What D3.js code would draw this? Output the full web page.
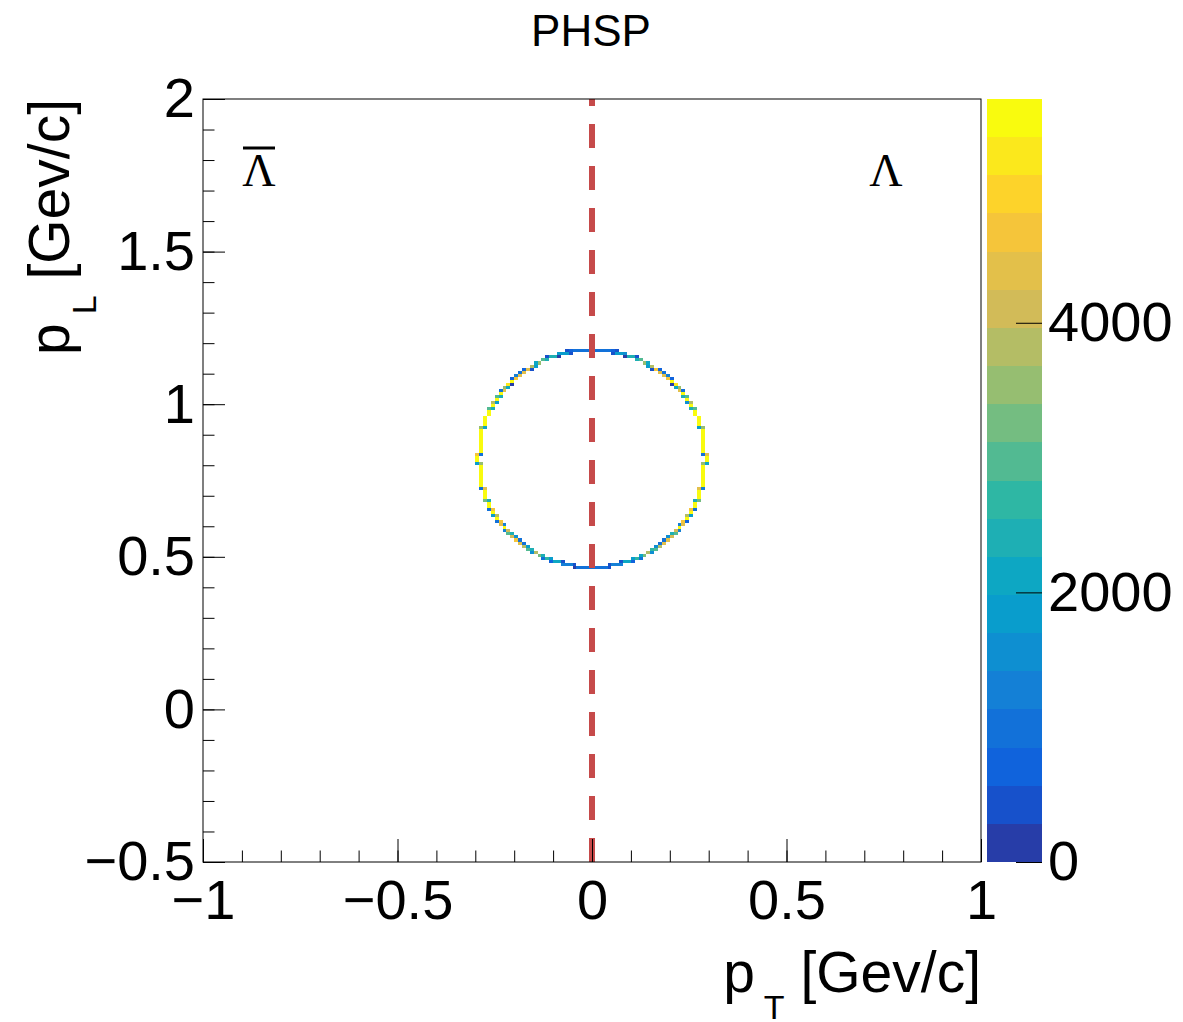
<!DOCTYPE html>
<html>
<head>
<meta charset="utf-8">
<script src="https://cdn.jsdelivr.net/npm/d3@7"></script>
<style>
  body { margin: 0; background: #fff; }
</style>
</head>
<body>
<div id="chart"></div>
<script>
// axis ranges and ticks
const pTRange = [-1, 1];
const pLRange = [-0.5, 2];
const pTTicks = [-1, -0.5, 0, 0.5, 1];
const pLTicks = [-0.5, 0, 0.5, 1, 1.5, 2];
const zTicks = [0, 2000, 4000];
const zMax = 5660;
const nContours = 20;
const binWidth = 0.01;

// ROOT kBird palette
const birdStops = [0, 0.125, 0.25, 0.375, 0.5, 0.625, 0.75, 0.875, 1];
const birdColors = ["#352a87", "#0f5cdd", "#1481d6", "#06a4ca", "#2eb7a4", "#87bf77", "#d1bb59", "#fec832", "#f9fb0e"];

// filled bins: [pT bin (x0.01), pL bin (x0.01), entries]
const rightCells = [
  [0,46,950],[1,46,950],[2,46,900],[3,46,850],[4,46,300],
  [4,47,400],[5,47,1300],[6,47,1300],[7,47,1400],
  [7,48,300],[8,48,2180],[9,48,2180],[10,48,830],
  [10,49,1740],[11,49,2800],[12,49,950],
  [12,50,2210],[13,50,3290],
  [14,51,3950],[15,51,1550],
  [15,52,2620],[16,52,2880],
  [16,53,1640],[17,53,3860],
  [17,54,1070],[18,54,4430],
  [18,55,990],[19,55,4510],
  [19,56,1450],[20,56,4050],
  [20,57,2475],[21,57,3025],
  [21,58,4160],[22,58,1340],
  [22,59,5500],
  [22,60,1200],[23,60,4300],
  [23,61,4660],[24,61,840],
  [24,62,5500],
  [24,63,3770],[25,63,1730],
  [25,64,5500],
  [25,65,4620],[26,65,880],
  [26,66,5500],[26,67,5480],
  [26,68,2360],[27,68,3140],
  [27,69,5500],[27,70,5520],[27,71,5490],
  [27,72,4300],[28,72,1200],
  [28,73,5500],[28,74,5510],[28,75,5490],[28,76,5500],[28,77,5530],[28,78,5480],[28,79,5500],
  [28,80,3500],[29,80,2000],
  [29,81,5560],[29,82,5620],
  [28,83,1000],[29,83,4500],
  [28,84,5500],[28,85,5490],[28,86,5520],[28,87,5500],[28,88,5480],[28,89,5510],[28,90,5500],[28,91,5490],
  [27,92,1980],[28,92,3520],
  [27,93,5500],[27,94,5510],[27,95,5480],
  [26,96,5500],[26,97,5490],
  [25,98,2430],[26,98,3070],
  [25,99,5500],
  [24,100,1650],[25,100,3850],
  [24,101,5500],
  [23,102,2470],[24,102,3030],
  [23,103,5500],
  [22,104,4430],[23,104,1070],
  [21,105,1990],[22,105,3510],
  [20,106,210],[21,106,5290],
  [20,107,5500],
  [19,108,4710],[20,108,790],
  [18,109,4290],[19,109,1210],
  [17,110,4390],[18,110,1110],
  [15,111,360],[16,111,4550],[17,111,590],
  [14,112,1750],[15,112,3750],
  [13,113,3480],[14,113,2020],
  [11,114,2400],[12,114,3040],
  [8,115,100],[9,115,2440],[10,115,2440],[11,115,510],
  [5,116,360],[6,116,1735],[7,116,1735],[8,116,1665],
  [0,117,900],[1,117,900],[2,117,900],[3,117,880],[4,117,850],[5,117,800],[6,117,450]
];

const leftCells = [
  [-1,46,950],[-2,46,950],[-3,46,900],[-4,46,850],[-5,46,250],
  [-5,47,450],[-6,47,1250],[-7,47,1350],[-8,47,1350],
  [-8,48,350],[-9,48,2100],[-10,48,2250],[-11,48,800],
  [-11,49,1800],[-12,49,2700],[-13,49,1000],
  [-13,50,2300],[-14,50,3200],
  [-15,51,3900],[-16,51,1600],
  [-16,52,2500],[-17,52,3000],
  [-17,53,1700],[-18,53,3800],
  [-18,54,1100],[-19,54,4400],
  [-19,55,950],[-20,55,4550],
  [-20,56,1500],[-21,56,4000],
  [-21,57,2400],[-22,57,3100],
  [-22,58,4200],[-23,58,1300],
  [-23,59,5500],
  [-23,60,1250],[-24,60,4250],
  [-24,61,4600],[-25,61,900],
  [-25,62,5450],
  [-25,63,3700],[-26,63,1800],
  [-26,64,5500],
  [-26,65,4550],[-27,65,950],
  [-27,66,5500],[-27,67,5450],
  [-27,68,2300],[-28,68,3200],
  [-28,69,5500],[-28,70,5490],[-28,71,5510],
  [-28,72,4400],[-29,72,1100],
  [-29,73,5500],[-29,74,5480],[-29,75,5520],[-29,76,5500],[-29,77,5490],[-29,78,5510],[-29,79,5500],
  [-29,80,3600],[-30,80,1900],
  [-30,81,5600],[-30,82,5660],
  [-29,83,900],[-30,83,4600],
  [-29,84,5500],[-29,85,5510],[-29,86,5490],[-29,87,5500],[-29,88,5520],[-29,89,5480],[-29,90,5500],[-29,91,5510],
  [-28,92,2000],[-29,92,3500],
  [-28,93,5500],[-28,94,5490],[-28,95,5510],
  [-27,96,5500],[-27,97,5480],
  [-26,98,2400],[-27,98,3100],
  [-26,99,5500],
  [-25,100,1700],[-26,100,3800],
  [-25,101,5500],
  [-24,102,2500],[-25,102,3000],
  [-24,103,5500],
  [-23,104,4400],[-24,104,1100],
  [-22,105,2000],[-23,105,3500],
  [-21,106,250],[-22,106,5250],
  [-21,107,5500],
  [-20,108,4700],[-21,108,800],
  [-19,109,4300],[-20,109,1200],
  [-18,110,4400],[-19,110,1100],
  [-16,111,400],[-17,111,4500],[-18,111,600],
  [-15,112,1800],[-16,112,3700],
  [-14,113,3500],[-15,113,2000],
  [-12,114,2350],[-13,114,3100],
  [-9,115,100],[-10,115,2400],[-11,115,2450],[-12,115,550],
  [-6,116,350],[-7,116,1700],[-8,116,1750],[-9,116,1700],
  [-1,117,900],[-2,117,900],[-3,117,900],[-4,117,880],[-5,117,850],[-6,117,800],[-7,117,450]
];

const W = 1183, H = 1022;
const frame = { left: 203, right: 981, top: 99, bottom: 862 };
const bar = { left: 987, right: 1042 };
const fontSans = '"Liberation Sans", Arial, Helvetica, sans-serif';
const fontSerif = '"Liberation Serif", "Times New Roman", serif';

const svg = d3.select("#chart").append("svg")
  .attr("width", W)
  .attr("height", H)
  .style("display", "block");

const x = d3.scaleLinear().domain(pTRange).range([frame.left, frame.right]);
const y = d3.scaleLinear().domain(pLRange).range([frame.bottom, frame.top]);
const z = d3.scaleLinear().domain([0, zMax]).range([frame.bottom, frame.top]);

const bird = d3.scaleLinear().domain(birdStops).range(birdColors).interpolate(d3.interpolateRgb);

// same lookup ROOT does: 20 contour bands over a 255 colour palette
function bandColor(band) {
  const idx = Math.floor((band + 0.99) * 255 / nContours);
  return bird(Math.min(idx, 254) / 254);
}
function cellColor(v) {
  const band = Math.min(nContours - 1, Math.floor(v / zMax * nContours));
  return bandColor(band);
}

// frame
svg.append("rect")
  .attr("x", frame.left).attr("y", frame.top)
  .attr("width", frame.right - frame.left)
  .attr("height", frame.bottom - frame.top)
  .attr("fill", "#fff");

// histogram bins
const cells = leftCells.concat(rightCells);
svg.append("g")
  .attr("shape-rendering", "crispEdges")
  .selectAll("rect")
  .data(cells)
  .join("rect")
  .attr("x", d => x(d[0] * binWidth))
  .attr("y", d => y((d[1] + 1) * binWidth))
  .attr("width", d => x((d[0] + 1) * binWidth) - x(d[0] * binWidth))
  .attr("height", d => y(d[1] * binWidth) - y((d[1] + 1) * binWidth))
  .attr("fill", d => cellColor(d[2]));

// dashed line at pT = 0
svg.append("line")
  .attr("x1", x(0)).attr("x2", x(0))
  .attr("y1", y(pLRange[0])).attr("y2", y(pLRange[1]))
  .attr("stroke", "#c64a4a")
  .attr("stroke-width", 6)
  .attr("stroke-dasharray", "24,18");

svg.append("rect")
  .attr("x", frame.left).attr("y", frame.top)
  .attr("width", frame.right - frame.left)
  .attr("height", frame.bottom - frame.top)
  .attr("fill", "none")
  .attr("stroke", "#000")
  .attr("stroke-width", 1);

// axes
function styleAxis(g) {
  g.select(".domain").remove();
  g.attr("font-family", fontSans).attr("font-size", 56);
  g.selectAll("line").attr("stroke", "#000");
  g.selectAll("text").attr("fill", "#000");
}

svg.append("g")
  .attr("transform", `translate(0,${frame.bottom})`)
  .call(d3.axisBottom(x).ticks(20).tickSize(-11.5).tickFormat(""))
  .call(styleAxis);
svg.append("g")
  .attr("transform", `translate(0,${frame.bottom})`)
  .call(d3.axisBottom(x).tickValues(pTTicks).tickSize(-23).tickPadding(17).tickFormat(d3.format("")))
  .call(styleAxis);

svg.append("g")
  .attr("transform", `translate(${frame.left},0)`)
  .call(d3.axisLeft(y).ticks(25).tickSize(-11.5).tickFormat(""))
  .call(styleAxis);
svg.append("g")
  .attr("transform", `translate(${frame.left},0)`)
  .call(d3.axisLeft(y).tickValues(pLTicks).tickSize(-22).tickPadding(8).tickFormat(d3.format("")))
  .call(styleAxis);

// colour bar
svg.append("g")
  .attr("shape-rendering", "crispEdges")
  .selectAll("rect")
  .data(d3.range(nContours))
  .join("rect")
  .attr("x", bar.left)
  .attr("width", bar.right - bar.left)
  .attr("y", i => z((i + 1) * zMax / nContours))
  .attr("height", i => z(i * zMax / nContours) - z((i + 1) * zMax / nContours))
  .attr("fill", i => bandColor(i));

svg.append("g")
  .attr("transform", `translate(${bar.right},0)`)
  .call(d3.axisRight(z).tickValues(zTicks).tickSize(-26).tickPadding(6).tickFormat(d3.format("")))
  .call(styleAxis);

// title
svg.append("text")
  .attr("x", 591).attr("y", 46)
  .attr("text-anchor", "middle")
  .attr("font-family", fontSans)
  .attr("font-size", 44)
  .text("PHSP");

// axis titles
function axisTitle(t, sub) {
  t.attr("font-family", fontSans).attr("font-size", 57).attr("text-anchor", "end");
  t.append("tspan").text("p");
  t.append("tspan").attr("font-size", 34).attr("dx", 9).attr("dy", 27).text(sub);
  t.append("tspan").attr("font-size", 57).attr("dy", -27).text(" [Gev/c]");
}
svg.append("text")
  .attr("x", frame.right).attr("y", 992)
  .call(axisTitle, "T");
svg.append("text")
  .attr("transform", `translate(69,${frame.top}) rotate(-90)`)
  .call(axisTitle, "L");

// Lambda labels
svg.append("text")
  .attr("x", 259).attr("y", 186)
  .attr("text-anchor", "middle")
  .attr("font-family", fontSerif)
  .attr("font-size", 46)
  .text("\u039B");
svg.append("line")
  .attr("x1", 243).attr("x2", 275)
  .attr("y1", 148).attr("y2", 148)
  .attr("stroke", "#000")
  .attr("stroke-width", 3);
svg.append("text")
  .attr("x", 886).attr("y", 186)
  .attr("text-anchor", "middle")
  .attr("font-family", fontSerif)
  .attr("font-size", 46)
  .text("\u039B");
</script>
</body>
</html>
